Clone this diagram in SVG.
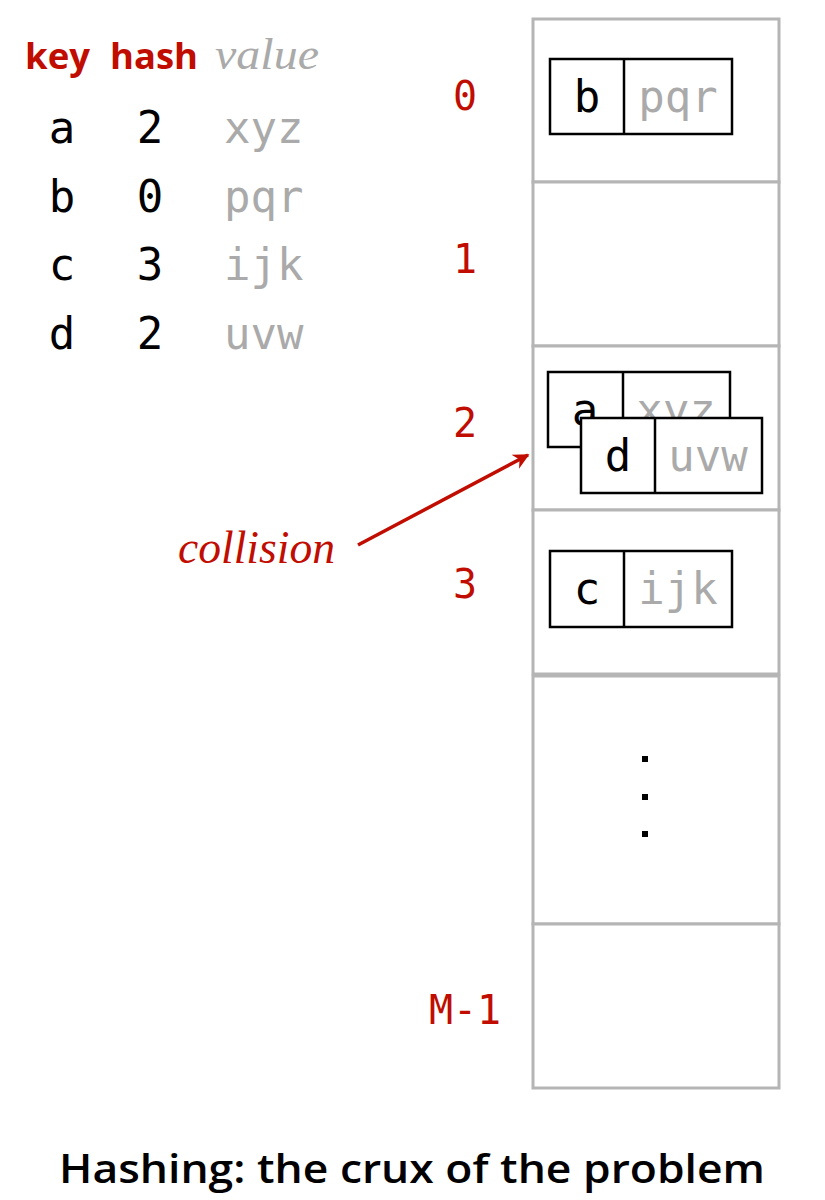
<svg xmlns="http://www.w3.org/2000/svg" width="825" height="1200" viewBox="0 0 825 1200">
<defs>
<style>
.mono{font-family:"DejaVu Sans Mono","Liberation Mono",monospace;font-size:44px}
.k{fill:#000}
.v{fill:#aaaaaa}
.red{fill:#c00d00}
.hdr{font-family:"Open Sans","Liberation Sans",sans-serif;font-weight:bold;font-size:36px;fill:#c00d00}
.cell{fill:#fff;stroke:#b5b5b5;stroke-width:3}
.box{fill:#fff;stroke:#000;stroke-width:2.5}
</style>
<marker id="ah" viewBox="0 0 10 10" refX="9" refY="5" markerWidth="22" markerHeight="16" markerUnits="userSpaceOnUse" orient="auto">
<path d="M0,0 L10,5 L0,10 L3,5 z" fill="#c00d00"/>
</marker>
</defs>
<rect width="825" height="1200" fill="#fff"/>
<g id="legend">
<text x="25" y="69" class="hdr" textLength="65" lengthAdjust="spacingAndGlyphs">key</text>
<text x="110" y="69" class="hdr" textLength="88" lengthAdjust="spacingAndGlyphs">hash</text>
<text x="215" y="69" font-family="Liberation Serif,serif" font-style="italic" font-size="44" fill="#aaaaaa" textLength="104" lengthAdjust="spacingAndGlyphs">value</text>
<text x="62" y="143" class="mono k" text-anchor="middle">a</text>
<text x="150" y="143" class="mono k" text-anchor="middle">2</text>
<text x="224" y="143" class="mono v">xyz</text>
<text x="62" y="212" class="mono k" text-anchor="middle">b</text>
<text x="150" y="212" class="mono k" text-anchor="middle">0</text>
<text x="224" y="212" class="mono v">pqr</text>
<text x="62" y="280" class="mono k" text-anchor="middle">c</text>
<text x="150" y="280" class="mono k" text-anchor="middle">3</text>
<text x="224" y="280" class="mono v">ijk</text>
<text x="62" y="349" class="mono k" text-anchor="middle">d</text>
<text x="150" y="349" class="mono k" text-anchor="middle">2</text>
<text x="224" y="349" class="mono v">uvw</text>
</g>
<g id="table">
<rect class="cell" x="533" y="19" width="246" height="163"/>
<rect class="cell" x="533" y="182" width="246" height="164"/>
<rect class="cell" x="533" y="346" width="246" height="164"/>
<rect class="cell" x="533" y="510" width="246" height="164"/>
<rect class="cell" x="533" y="676" width="246" height="248"/>
<rect class="cell" x="533" y="924" width="246" height="164"/>
</g>
<g id="indices" class="mono red" text-anchor="middle" style="font-size:40px">
<text x="465" y="110">0</text>
<text x="465" y="273">1</text>
<text x="465" y="437">2</text>
<text x="465" y="598">3</text>
<text x="465" y="1024">M-1</text>
</g>
<g id="node-b">
<rect class="box" x="550" y="59" width="182" height="75"/>
<line x1="624" y1="59" x2="624" y2="134" stroke="#000" stroke-width="2.5"/>
<text x="587" y="112" class="mono k" text-anchor="middle">b</text>
<text x="678" y="112" class="mono v" text-anchor="middle">pqr</text>
</g>
<g id="node-a">
<rect class="box" x="548" y="372" width="182" height="75"/>
<line x1="623" y1="372" x2="623" y2="447" stroke="#000" stroke-width="2.5"/>
<text x="585" y="425" class="mono k" text-anchor="middle">a</text>
<text x="676" y="425" class="mono v" text-anchor="middle">xyz</text>
</g>
<g id="node-d">
<rect class="box" x="581" y="418" width="181" height="75"/>
<line x1="655" y1="418" x2="655" y2="493" stroke="#000" stroke-width="2.5"/>
<text x="618" y="471" class="mono k" text-anchor="middle">d</text>
<text x="708" y="471" class="mono v" text-anchor="middle">uvw</text>
</g>
<g id="node-c">
<rect class="box" x="550" y="551" width="182" height="76"/>
<line x1="624" y1="551" x2="624" y2="627" stroke="#000" stroke-width="2.5"/>
<text x="587" y="604" class="mono k" text-anchor="middle">c</text>
<text x="678" y="604" class="mono v" text-anchor="middle">ijk</text>
</g>
<g id="dots" fill="#000">
<rect x="642" y="756" width="6" height="6"/>
<rect x="642" y="794" width="6" height="6"/>
<rect x="642" y="831" width="6" height="6"/>
</g>
<g id="connectors">
<line x1="358" y1="545" x2="528" y2="455" stroke="#c00d00" stroke-width="3.5" marker-end="url(#ah)"/>
</g>
<g id="label-collision">
<text x="178" y="563" font-family="Liberation Serif,serif" font-style="italic" font-size="46" fill="#c00d00" textLength="157" lengthAdjust="spacingAndGlyphs">collision</text>
</g>
<g id="title">
<text x="412" y="1183" text-anchor="middle" font-family="Open Sans,Liberation Sans,sans-serif" font-weight="600" font-size="40" textLength="706" lengthAdjust="spacingAndGlyphs" fill="#000">Hashing: the crux of the problem</text>
</g>
</svg>
